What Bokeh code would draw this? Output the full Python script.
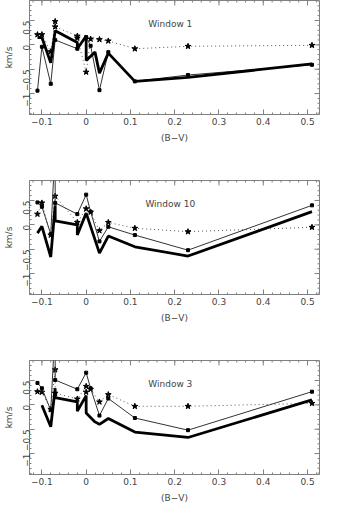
import math
from bokeh.plotting import figure
from bokeh.layouts import column
from bokeh.models import Range1d, FixedTicker
from bokeh.core.properties import value
from bokeh.embed import file_html
from bokeh.resources import INLINE

# ---- data ----
window_names = ["Window 1", "Window 10", "Window 3"]

w1_thick_bv = [-0.11, -0.10, -0.08, -0.07, -0.02, -0.02, 0.00, 0.00, 0.02, 0.03, 0.05, 0.11, 0.23, 0.51]
w1_thick_v = [0.15, 0.15, -0.37, 0.29, 0.05, -0.08, 0.18, -0.32, -0.15, -0.58, -0.17, -0.75, -0.67, -0.39]
w1_thin_bv = [-0.11, -0.10, -0.08, -0.07, -0.02, 0.00, 0.01, 0.03, 0.05, 0.11, 0.23, 0.51]
w1_thin_v = [-0.94, -0.04, -0.80, 0.10, -0.08, 0.16, -0.02, -0.93, -0.15, -0.75, -0.62, -0.41]
w1_star_bv = [-0.11, -0.10, -0.08, -0.07, -0.07, -0.02, -0.02, 0.00, 0.01, 0.03, 0.05, 0.11, 0.23, 0.51]
w1_star_v = [0.21, 0.21, -0.14, 0.48, 0.37, 0.18, 0.14, -0.56, 0.12, 0.11, 0.08, -0.08, -0.03, -0.01]

w10_thick_bv = [-0.11, -0.10, -0.08, -0.07, -0.07, -0.02, -0.02, 0.00, 0.03, 0.05, 0.11, 0.23, 0.51]
w10_thick_v = [-0.17, -0.03, -0.66, 0.40, 0.08, 0.00, -0.21, 0.24, -0.58, -0.23, -0.45, -0.64, 0.27]
w10_thin_bv = [-0.11, -0.10, -0.08, -0.07, -0.07, -0.02, 0.00, 0.01, 0.03, 0.05, 0.11, 0.23, 0.51]
w10_thin_v = [0.46, 0.37, -0.19, 1.60, 0.45, 0.22, 0.62, 0.27, -0.34, -0.04, -0.21, -0.52, 0.40]
w10_star_bv = [-0.11, -0.10, -0.08, -0.07, -0.02, 0.00, 0.01, 0.03, 0.05, 0.11, 0.23, 0.51]
w10_star_v = [0.22, 0.45, -0.21, 0.59, 0.05, 0.33, 0.26, -0.12, 0.05, -0.07, -0.14, -0.05]

w3_thick_bv = [-0.10, -0.08, -0.07, -0.07, -0.02, -0.02, 0.00, 0.00, 0.02, 0.03, 0.05, 0.11, 0.23, 0.51]
w3_thick_v = [-0.01, -0.45, 0.34, 0.15, 0.06, -0.13, 0.19, -0.17, -0.35, -0.40, -0.28, -0.56, -0.67, 0.10]
w3_thin_bv = [-0.11, -0.10, -0.08, -0.07, -0.07, -0.02, 0.00, 0.01, 0.03, 0.05, 0.11, 0.23, 0.51]
w3_thin_v = [0.45, 0.34, -0.11, 1.60, 0.51, 0.32, 0.66, 0.34, -0.22, 0.13, -0.27, -0.52, 0.27]
w3_star_bv = [-0.11, -0.10, -0.08, -0.07, -0.07, -0.02, 0.00, 0.00, 0.01, 0.03, 0.05, 0.11, 0.23, 0.51]
w3_star_v = [0.27, 0.26, -0.09, 0.72, 0.24, 0.12, 0.38, 0.26, 0.32, 0.06, 0.21, -0.03, -0.03, 0.03]

x_ticks = [-0.1, 0.0, 0.1, 0.2, 0.3, 0.4, 0.5]
x_labels = ["\u22120.1", "0", "0.1", "0.2", "0.3", "0.4", "0.5"]
x_minor = [round(-0.12 + 0.02 * i, 2) for i in range(33)]
y_ticks = [-1.0, -0.5, 0.0, 0.5]
y_labels = ["\u22121", "\u22120.5", "0", "0.5"]
y_minor = [round(-1.4 + 0.1 * i, 1) for i in range(24)]

X_LO, X_HI = -0.128, 0.527
Y_LO, Y_HI = -1.43, 0.91

panels = [
    (w1_thick_bv, w1_thick_v, w1_thin_bv, w1_thin_v, w1_star_bv, w1_star_v),
    (w10_thick_bv, w10_thick_v, w10_thin_bv, w10_thin_v, w10_star_bv, w10_star_v),
    (w3_thick_bv, w3_thick_v, w3_thin_bv, w3_thin_v, w3_star_bv, w3_star_v),
]

FONT = "DejaVu Sans"
TXT = "#444444"
FRAME = "#808080"


def style_axis(ax, ticks, labels, minor):
    ax.ticker = FixedTicker(ticks=ticks, minor_ticks=minor)
    ax.major_tick_in = 5
    ax.major_tick_out = 0
    ax.minor_tick_in = 2
    ax.minor_tick_out = 0
    ax.axis_line_color = FRAME
    ax.major_tick_line_color = FRAME
    ax.minor_tick_line_color = FRAME
    ax.major_label_text_font = FONT
    ax.major_label_text_color = TXT
    ax.major_label_text_font_size = "9px"
    ax.major_label_overrides = {t: l for t, l in zip(ticks, labels)}
    ax.major_label_standoff = 3
    ax.axis_label_text_font = FONT
    ax.axis_label_text_color = TXT
    ax.axis_label_text_font_style = "normal"
    ax.axis_label_text_font_size = "9px"


figs = []
heights = [180, 180, 145]
bottoms = [66, 66, 31]
for i, (tx, tv, nx, nv, sx, sv) in enumerate(panels):
    p = figure(width=321, height=heights[i], output_backend="svg", toolbar_location=None,
               x_range=Range1d(X_LO, X_HI), y_range=Range1d(Y_LO, Y_HI),
               min_border_top=0, min_border_bottom=bottoms[i], min_border_left=10,
               min_border_right=2)
    p.grid.visible = False
    p.outline_line_color = FRAME
    p.background_fill_color = "white"

    style_axis(p.xaxis[0], x_ticks, x_labels, x_minor)
    p.xaxis[0].axis_label = "(B\u2212V)"
    p.xaxis[0].axis_label_standoff = 5
    style_axis(p.yaxis[0], y_ticks, y_labels, y_minor)
    p.yaxis[0].axis_label = "km/s"
    p.yaxis[0].axis_label_standoff = 3
    p.yaxis[0].major_label_orientation = math.pi / 2

    # inward ticks on the top and right edges of the frame
    p.ray(x=x_ticks, y=[Y_HI] * len(x_ticks), length=5, length_units="screen",
          angle=-math.pi / 2, line_color=FRAME, line_width=1)
    p.ray(x=x_minor, y=[Y_HI] * len(x_minor), length=2, length_units="screen",
          angle=-math.pi / 2, line_color=FRAME, line_width=1)
    p.ray(x=[X_HI] * len(y_ticks), y=y_ticks, length=5, length_units="screen",
          angle=math.pi, line_color=FRAME, line_width=1)
    p.ray(x=[X_HI] * len(y_minor), y=y_minor, length=2, length_units="screen",
          angle=math.pi, line_color=FRAME, line_width=1)

    p.line(sx, sv, line_color="#555555", line_width=1, line_dash="1 3")
    p.scatter(sx, sv, marker="star", size=6, fill_color="black", line_color="black")
    p.line(nx, nv, line_color="#333333", line_width=1)
    p.scatter(nx, nv, marker="square", size=3, fill_color="black", line_color="black")
    p.line(tx, tv, line_color="black", line_width=2.8)

    p.text(x=[0.19], y=[0.43], text=[window_names[i]], text_font=value(FONT),
           text_font_size="9px", text_color=TXT, text_align="center", text_baseline="middle")
    figs.append(p)

layout = column(*figs, spacing=0)
open("out.html", "w").write(file_html(layout, INLINE))
